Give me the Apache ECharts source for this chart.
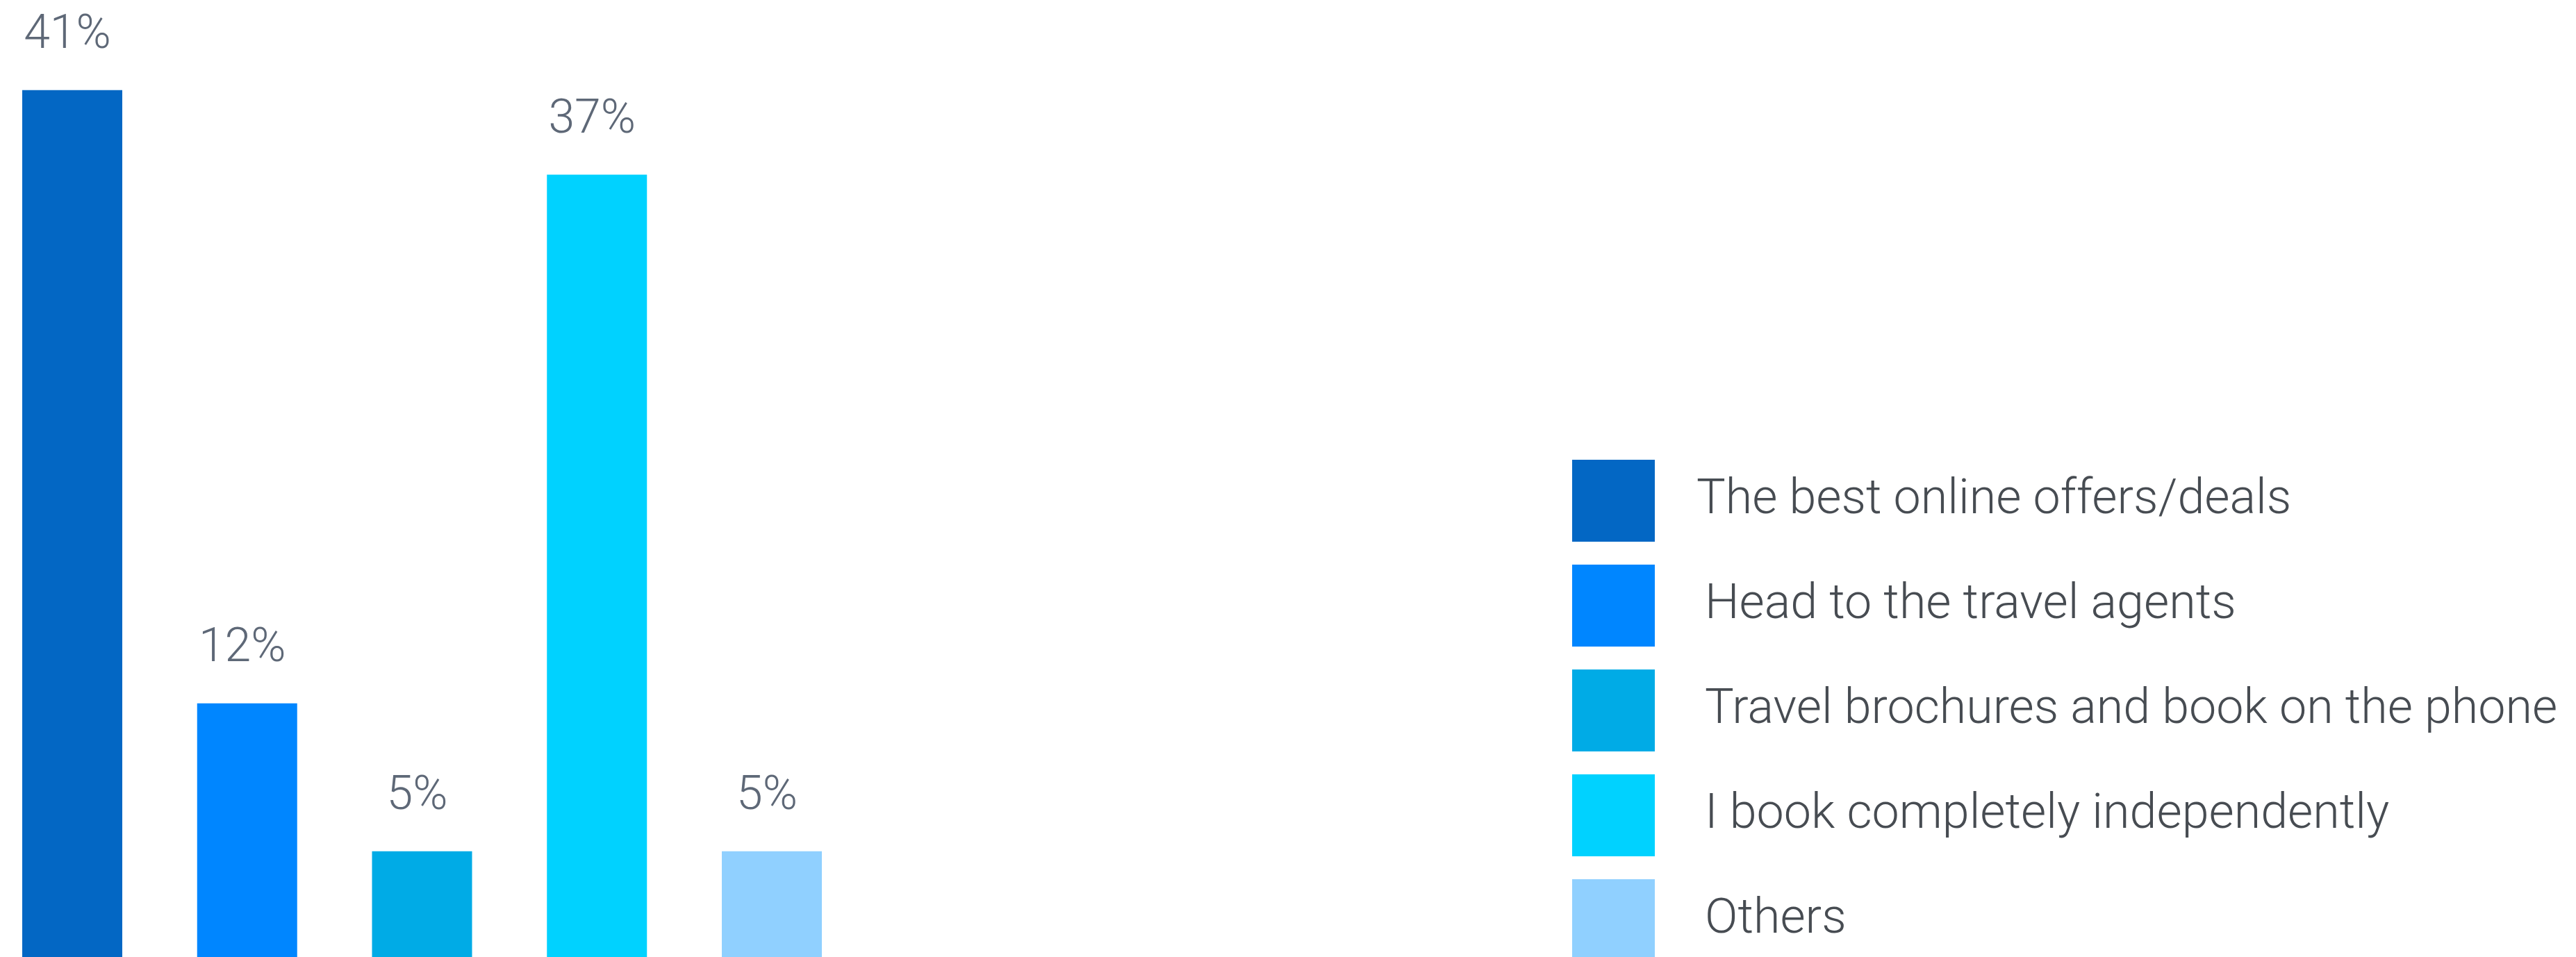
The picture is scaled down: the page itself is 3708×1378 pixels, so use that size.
<!DOCTYPE html>
<html>
<head>
<meta charset="utf-8">
<script src="https://cdn.jsdelivr.net/npm/echarts@6/dist/echarts.min.js"></script>
<style>
  html, body { margin: 0; padding: 0; background: #ffffff; }
  #chart { width: 3708px; height: 1378px; }
</style>
</head>
<body>
<div id="chart"></div>
<script>
// Survey answers: how people book their holidays
const categories = [
  'The best online offers/deals',
  'Head to the travel agents',
  'Travel brochures and book on the phone',
  'I book completely independently',
  'Others'
];
const shares = [41, 12, 5, 37, 5];
const barColors = ['#0367C4', '#0086FF', '#00ABE6', '#00D2FF', '#90D0FF'];

// One series per answer so each gets its own legend entry; barGap -100%
// lets the series overlap so every bar sits centred on its own category.
const series = categories.map(function (name, i) {
  return {
    name: name,
    type: 'bar',
    barWidth: 144,
    barGap: '-100%',
    itemStyle: { color: barColors[i] },
    label: {
      show: true,
      position: 'top',
      distance: 44,
      offset: [-7, 0],
      formatter: '{c}%',
      fontFamily: 'Roboto',
      fontWeight: 300,
      fontSize: 68,
      color: '#5E6877'
    },
    data: shares.map(function (v, j) { return j === i ? v : '-'; })
  };
});

// Legend entries; the first one sits a little closer to its swatch
const legendItems = categories.map(function (name, i) {
  return i === 0
    ? { name: name, textStyle: { padding: [0, 0, 0, 55] } }
    : { name: name };
});

const chart = echarts.init(document.getElementById('chart'));
chart.setOption({
  animation: false,
  backgroundColor: '#ffffff',
  grid: { left: 104, width: 1007, top: 8, bottom: 0, containLabel: false },
  xAxis: {
    type: 'category',
    data: categories,
    boundaryGap: false,
    show: false
  },
  yAxis: {
    type: 'value',
    min: 0,
    max: 45,
    show: false
  },
  legend: {
    orient: 'vertical',
    left: 2263,
    top: 662,
    padding: 0,
    height: 1200,
    itemWidth: 119,
    itemHeight: 118,
    itemGap: 33,
    icon: 'rect',
    selectedMode: false,
    textStyle: {
      fontFamily: 'Roboto',
      fontWeight: 300,
      fontSize: 70,
      color: '#474C52',
      padding: [0, 0, 0, 67]
    },
    data: legendItems
  },
  series: series
});
</script>
</body>
</html>
